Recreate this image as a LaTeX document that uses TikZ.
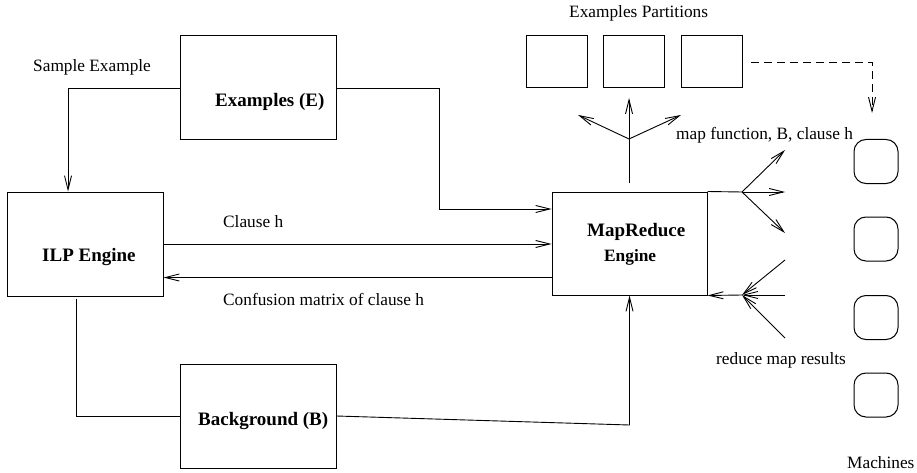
\documentclass[tikz,border=0pt]{standalone}
\usepackage{fontspec}
\setmainfont{Liberation Serif}
\usetikzlibrary{arrows.meta}
\begin{document}
\begin{tikzpicture}[x=1pt,y=-1pt,
  box/.style={draw, line width=1pt, minimum width=156pt, minimum height=104pt, inner sep=0pt},
  part/.style={draw, line width=1pt, minimum width=61pt, minimum height=52pt, inner sep=0pt},
  mach/.style={draw, line width=1pt, rounded corners=12pt, minimum width=44pt, minimum height=44pt, inner sep=0pt},
  conn/.style={line width=0.9pt},
  arr/.style={conn, -{Straight Barb[length=14pt,width=7pt]}},
  lbl/.style={anchor=base west, inner sep=0pt, font=\fontsize{17.3}{20}\selectfont},
  blbl/.style={anchor=base west, inner sep=0pt, font=\fontsize{19}{22}\selectfont\bfseries},
]
\useasboundingbox (0,0) rectangle (917,473);

% main boxes
\node[box] (ex)  at (258,88) {};
\node[box] (ilp) at (85,244) {};
\node[box] (bg)  at (258,416) {};
\node[box, minimum width=155pt, minimum height=103pt] (mr) at (629.5,243.5) {};

% partitions
\node[part] (p1) at (556.5,62) {};
\node[part] (p2) at (633.5,62) {};
\node[part] (p3) at (712,62) {};

% machines
\node[mach] (m1) at (876,161.5) {};
\node[mach] (m2) at (876,239) {};
\node[mach] (m3) at (876,317.5) {};
\node[mach] (m4) at (876,395) {};

% texts
\node[blbl] (tex)  at (215,107) {Examples (E)};
\node[blbl] (tilp) at (42,261) {ILP Engine};
\node[blbl] (tbg)  at (198,425) {Background (B)};
\node[blbl] (tmr1) at (587,236) {MapReduce};
\node[blbl, font=\fontsize{17.3}{20}\selectfont\bfseries] (tmr2) at (604,261) {Engine};
\node[lbl] (tsample) at (33,72) {Sample Example};
\node[lbl] (tclause) at (223,227) {Clause h};
\node[lbl] (tconf)   at (223,305) {Confusion matrix of clause h};
\node[lbl] (tparts)  at (569,18) {Examples Partitions};
\node[lbl] (tmap)    at (676,140) {map function, B, clause h};
\node[lbl] (tred)    at (716,364) {reduce map results};
\node[lbl] (tmach)   at (847,468) {Machines};

% coordinates
\coordinate (c1) at (439,209);
\coordinate (c2) at (629.5,425);
\coordinate (b1) at (742,192);
\coordinate (b2) at (742,295);
\coordinate (o1) at (785,150);
\coordinate (o2) at (785,192);
\coordinate (o3) at (785,233);
\coordinate (i1) at (785,260);
\coordinate (i2) at (785,295);
\coordinate (i3) at (785,338);
\coordinate (t0) at (629,183);
\coordinate (t1) at (629,139);
\coordinate (tu) at (629,98);
\coordinate (tl) at (578,115);
\coordinate (tr) at (681,115);
\coordinate (d1) at (872,113);

% connectors
\draw[arr] (ex.west) -| ([xshift=-17pt]ilp.north);
\draw[arr] (ex.east) -| (c1) -- (c1 -| mr.west);
\draw[arr] (ilp.east) -- (ilp.east -| mr.west);
\draw[arr] ([yshift=-34pt]mr.west) -- ([yshift=-34pt]mr.west -| ilp.east);
\draw[conn] ([xshift=-9pt,yshift=-2pt]ilp.south) |- (bg.west);
\draw[arr] (bg.east) -- (c2) -- (mr.south);

\draw[conn] (mr.north east) -- (b1);
\draw[arr] (b1) -- (o1);
\draw[arr] (b1) -- (o2);
\draw[arr] (b1) -- (o3);

\draw[arr] (i1) -- (b2);
\draw[arr] (i2) -- (b2);
\draw[arr] (i3) -- (b2);
\draw[arr] (b2) -- (mr.south east);

\draw[arr] (t0) -- (tu);
\draw[arr] (t1) -- (tl);
\draw[arr] (t1) -- (tr);

\draw[arr, dash pattern=on 8pt off 5pt] ([xshift=8pt]p3.east) -| (d1);
\end{tikzpicture}
\end{document}
